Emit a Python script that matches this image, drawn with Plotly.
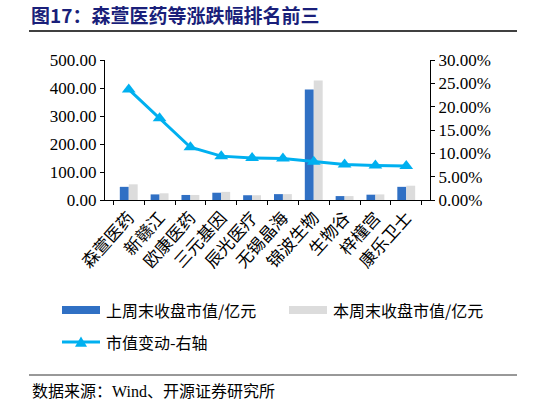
import plotly.graph_objects as go

names = ["森萱医药", "新赣江", "欧康医药", "三元基因", "辰光医疗",
         "无锡晶海", "锦波生物", "生物谷", "梓橦宫", "康乐卫士"]
last_week = [47, 20, 18, 26, 17, 21, 395, 14, 19, 47]
this_week = [56, 24, 18, 29, 17, 21, 427, 14, 20, 51]
change = [0.237, 0.175, 0.113, 0.094, 0.090, 0.089, 0.082, 0.076, 0.074, 0.073]

blue = "#3070C4"
gray = "#DCDCDC"
sky = "#00B0F0"
serif = "Times New Roman, Liberation Serif, serif"
cjk = "Noto Sans CJK SC"

W, H = 546, 405
L, R, T, B = 105, 116, 60, 205
PW, PH = W - L - R, H - T - B

fig = go.Figure()
fig.add_trace(go.Bar(x=names, y=last_week, name="上周末收盘市值/亿元",
                     marker=dict(color=blue, line=dict(width=0))))
fig.add_trace(go.Bar(x=names, y=this_week, name="本周末收盘市值/亿元",
                     marker=dict(color=gray, line=dict(width=0))))
fig.add_trace(go.Scatter(x=names, y=change, name="市值变动-右轴", yaxis="y2",
                         mode="lines+markers",
                         line=dict(color=sky, width=3),
                         marker=dict(symbol="triangle-up", size=12, color=sky)))

fig.update_layout(
    width=W, height=H,
    margin=dict(l=L, r=R, t=T, b=B, autoexpand=False),
    paper_bgcolor="white", plot_bgcolor="white",
    showlegend=False,
    barmode="group", bargap=0.42, bargroupgap=0,
    xaxis=dict(type="category", showline=True, linecolor="#000", linewidth=1,
               ticks="outside", tickson="boundaries", ticklen=4, tickcolor="#000",
               tickangle=-48, tickfont=dict(family=cjk, size=17, color="#000")),
    yaxis=dict(range=[0, 500], dtick=100, tickformat=".2f", showgrid=False,
               showline=True, linecolor="#000", linewidth=1, ticks="outside",
               ticklen=4, tickcolor="#000", zeroline=False,
               tickfont=dict(family=serif, size=17, color="#000")),
    yaxis2=dict(range=[0, 0.30], dtick=0.05, tickformat=".2%", overlaying="y",
                side="right", showgrid=False, showline=True, linecolor="#000",
                linewidth=1, ticks="outside", ticklen=4, tickcolor="#000",
                zeroline=False, tickfont=dict(family=serif, size=17, color="#000")),
)


def px(x):
    # figure pixel -> paper x
    return (x - L) / PW


def py(y):
    # figure pixel -> paper y
    return (H - B - y) / PH


def tri(cx, cy, s=6):
    return (f"M {px(cx - s)} {py(cy + s * 0.8)} L {px(cx + s)} {py(cy + s * 0.8)} "
            f"L {px(cx)} {py(cy - s * 0.9)} Z")


shapes = [
    # title and source rules
    dict(type="line", x0=px(29), x1=px(517), y0=py(31), y1=py(31),
         line=dict(color="#000", width=1.5)),
    dict(type="line", x0=px(29), x1=px(517), y0=py(375), y1=py(375),
         line=dict(color="#333", width=1)),
    # legend symbols
    dict(type="rect", x0=px(62), x1=px(100), y0=py(314), y1=py(306),
         fillcolor=blue, line=dict(width=0)),
    dict(type="rect", x0=px(289), x1=px(327), y0=py(314), y1=py(306),
         fillcolor=gray, line=dict(width=0)),
    dict(type="line", x0=px(62), x1=px(100), y0=py(342), y1=py(342),
         line=dict(color=sky, width=3)),
    dict(type="path", path=tri(81, 342), fillcolor=sky, line=dict(width=0)),
]
for s in shapes:
    s.update(xref="paper", yref="paper")
fig.update_layout(shapes=shapes)

ann = [
    dict(text="<b>图17：森萱医药等涨跌幅排名前三</b>", x=px(29), y=py(14),
         font=dict(family=cjk, size=19, color="#1A1F7A")),
    dict(text="上周末收盘市值/亿元", x=px(104), y=py(310),
         font=dict(family=cjk, size=16, color="#000")),
    dict(text="本周末收盘市值/亿元", x=px(331), y=py(310),
         font=dict(family=cjk, size=16, color="#000")),
    dict(text="市值变动-右轴", x=px(104), y=py(342),
         font=dict(family=cjk, size=16, color="#000")),
    dict(text="数据来源：<span style='font-family:Liberation Serif'>Wind</span>、开源证券研究所",
         x=px(30), y=py(390), font=dict(family=cjk, size=16, color="#000")),
]
for a in ann:
    fig.add_annotation(xref="paper", yref="paper", xanchor="left", yanchor="middle",
                       showarrow=False, **a)

fig.write_html("out.html", config={"displayModeBar": False},
               post_script="document.body.style.margin='0';")
